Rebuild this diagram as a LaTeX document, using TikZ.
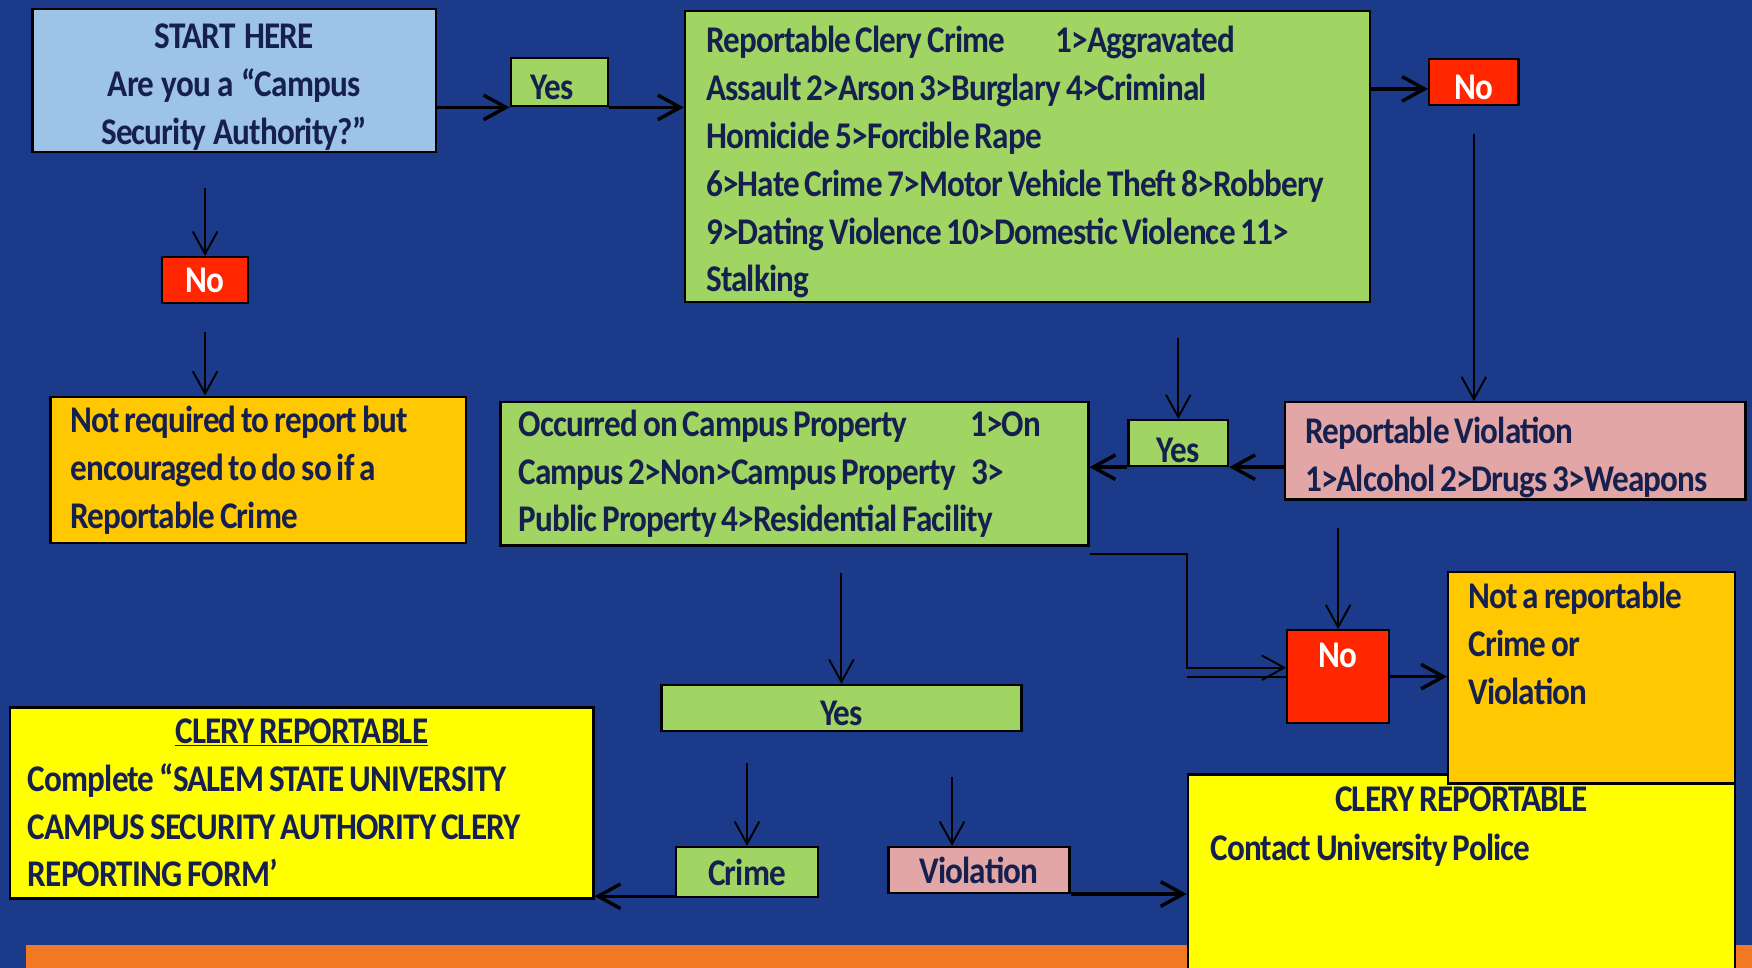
\documentclass[tikz,border=0pt]{standalone}
\usepackage{fontspec}
\setmainfont{Carlito}[FakeStretch=0.88, LetterSpace=-2.3, WordSpace=0.75]
\usetikzlibrary{arrows.meta, positioning}
\newlength{\px}\setlength{\px}{0.25mm}
\definecolor{navy}{RGB}{27,58,138}
\definecolor{ink}{RGB}{22,32,78}
\definecolor{sky}{RGB}{157,195,230}
\definecolor{leaf}{RGB}{160,213,100}
\definecolor{alarm}{RGB}{255,38,0}
\definecolor{amber}{RGB}{255,200,0}
\definecolor{rose}{RGB}{226,166,166}
\definecolor{lemon}{RGB}{255,255,0}
\definecolor{tangerine}{RGB}{242,120,36}
\tikzstyle{chart}=[x=0.25mm, y=-0.25mm, >={Straight Barb[length=5mm,width=5.5mm]}, font=\bfseries\fontsize{24}{30.5}\selectfont, text=ink]
\tikzstyle{box}=[draw=black, line width=1.5pt, rectangle, inner sep=0pt, anchor=north west, execute at begin node={\spaceskip=0pt\relax}]
\tikzstyle{tag}=[box, minimum height=41\px]
\tikzstyle{yes}=[tag, fill=leaf]
\tikzstyle{no}=[tag, fill=alarm, text=white]
\tikzstyle{note}=[inner sep=0pt, align=left, anchor=north west]
\tikzstyle{flow}=[->, line width=1.2pt]
\tikzstyle{bold flow}=[->, line width=2.2pt]

\begin{document}
\begin{tikzpicture}[chart]
  \useasboundingbox (0,0) rectangle (1568,866);
  \fill[navy] (0,0) rectangle (1568,866);
  \fill[tangerine] (23,846) rectangle (1568,866);

  % first question
  \node[box, fill=sky, minimum width=361\px, minimum height=128\px, text width=341\px, align=center, text height=24pt] (start) at (28,7) {START HERE\\Are you a “Campus\\Security Authority?”};
  \node[yes, minimum width=87\px, minimum height=43\px, text width=51\px, align=left, text height=22pt] (yesA) at (456,51) {Yes};
  \node[no, minimum width=77\px] (noB) at (144,229) {No};
  \node[box, fill=amber, minimum width=372\px, minimum height=131\px, text width=336\px, align=left] (optional) at (44,354) {Not required to report but\\encouraged to do so if a\\Reportable Crime};

  % crimes and violations
  \node[box, fill=leaf, minimum width=613\px, minimum height=260\px, text width=575\px, align=left, text height=24pt] (crimes) at (612,9) {Reportable Clery Crime\hspace{45\px}1>Aggravated\\Assault 2>Arson 3>Burglary 4>Criminal\\Homicide 5>Forcible Rape\\6>Hate Crime 7>Motor Vehicle Theft 8>Robbery\\9>Dating Violence 10>Domestic Violence 11>\\Stalking};
  \node[no, minimum width=80\px, text height=22pt] (noA) at (1278,52) {No};
  \node[box, fill=rose, minimum width=412\px, minimum height=87\px, text width=376\px, align=left, text height=25.5pt] (violations) at (1149,359) {Reportable Violation\\1>Alcohol 2>Drugs 3>Weapons};
  \node[yes, minimum width=89\px, text height=25pt] (yesB) at (1009,375) {Yes};
  \node[box, fill=leaf, minimum width=526\px, minimum height=128\px, text width=494\px, align=left] (property) at (447,359) {Occurred on Campus Property\hspace{56\px}1>On\\Campus 2>Non>Campus Property\hspace{14\px}3>\\Public Property 4>Residential Facility};

  % outcomes
  \node[no, minimum width=91\px, minimum height=83\px] (noC) at (1151,563) {};
  \node[note, anchor=north, text=white] (noCtext) at ([yshift=-12\px]noC.north) {No};
  \node[yes, minimum width=322\px, text height=22pt] (yesC) at (591,612) {Yes};
  \node[yes, minimum width=127\px, minimum height=45\px] (crime) at (604,757) {Crime};
  \node[tag, fill=rose, minimum width=162\px] (violation) at (794,757) {Violation};
  \node[box, fill=lemon, minimum width=522\px, minimum height=171\px, text width=490\px, align=left] (formbox) at (8,632) {\makebox[490\px]{\underline{CLERY REPORTABLE}}\\Complete “SALEM STATE UNIVERSITY\\CAMPUS SECURITY AUTHORITY CLERY\\REPORTING FORM’};
  \node[box, fill=lemon, minimum width=490\px, minimum height=190\px] (police) at (1062,692) {};
  \node[note, anchor=north] (policehead) at ([yshift=-12\px]police.north) {CLERY REPORTABLE};
  \node[note] (policetext) at ([xshift=21\px,yshift=-54\px]police.north west) {Contact University Police};
  \node[box, fill=amber, minimum width=257\px, minimum height=189\px] (notrep) at (1295,511) {};
  \node[note] (notreptext) at ([xshift=19\px,yshift=-10\px]notrep.north west) {Not a reportable\\Crime or\\Violation};

  % connectors
  \draw[bold flow] (start.east |- yesA.south) -- (yesA.south west);
  \draw[bold flow] (yesA.south east) -- (yesA.south east -| crimes.west);
  \draw[bold flow] ([yshift=-6\px]crimes.east |- noA.west) -- ([yshift=-6\px]noA.west);
  \coordinate (noAdrop) at ([yshift=-25\px]noA.south);
  \draw[flow] (noAdrop) -- (noAdrop |- violations.north);
  \coordinate (startdrop) at ([yshift=-31\px]start.south -| noB.north);
  \draw[flow] (startdrop) -- (noB.north);
  \coordinate (noBdrop) at ([yshift=-25\px]noB.south);
  \draw[flow] (noBdrop) -- (noBdrop |- optional.north);
  \coordinate (crimesdrop) at ([yshift=-31\px]crimes.south -| yesB.north);
  \draw[flow] (crimesdrop) -- (yesB.north);
  \draw[bold flow] (violations.west |- yesB.south) -- (yesB.south east);
  \draw[bold flow] (yesB.south west) -- (yesB.south west -| property.east);
  \coordinate (propertyout) at ([yshift=-7\px]property.south east);
  \coordinate (knee) at ([yshift=8\px]noC.west -| police.west);
  \draw[flow] (propertyout) -| (knee) -- (knee -| noC.west);
  \draw[flow, -] (noC.west -| police.west) -- (noC.west);
  \coordinate (violdrop) at ([yshift=-24\px]violations.south -| noC.north);
  \draw[flow] (violdrop) -- (noC.north);
  \draw[bold flow] (noC.east) -- (noC.east -| notrep.west);
  \coordinate (propertydrop) at ([yshift=-24\px]property.south -| yesC.north);
  \draw[flow] (propertydrop) -- (yesC.north);
  \coordinate (crimedrop) at ([yshift=-28\px]yesC.south -| crime.north);
  \draw[flow] (crimedrop) -- (crime.north);
  \coordinate (violationdrop) at ([xshift=-24\px,yshift=-40\px]yesC.south -| violation.north);
  \draw[flow] (violationdrop) -- (violationdrop |- violation.north);
  \draw[bold flow] ([yshift=2\px]crime.south west) -- ([yshift=2\px]crime.south west -| formbox.east);
  \draw[bold flow] (violation.south east) -- (violation.south east -| police.west);
\end{tikzpicture}
\end{document}
